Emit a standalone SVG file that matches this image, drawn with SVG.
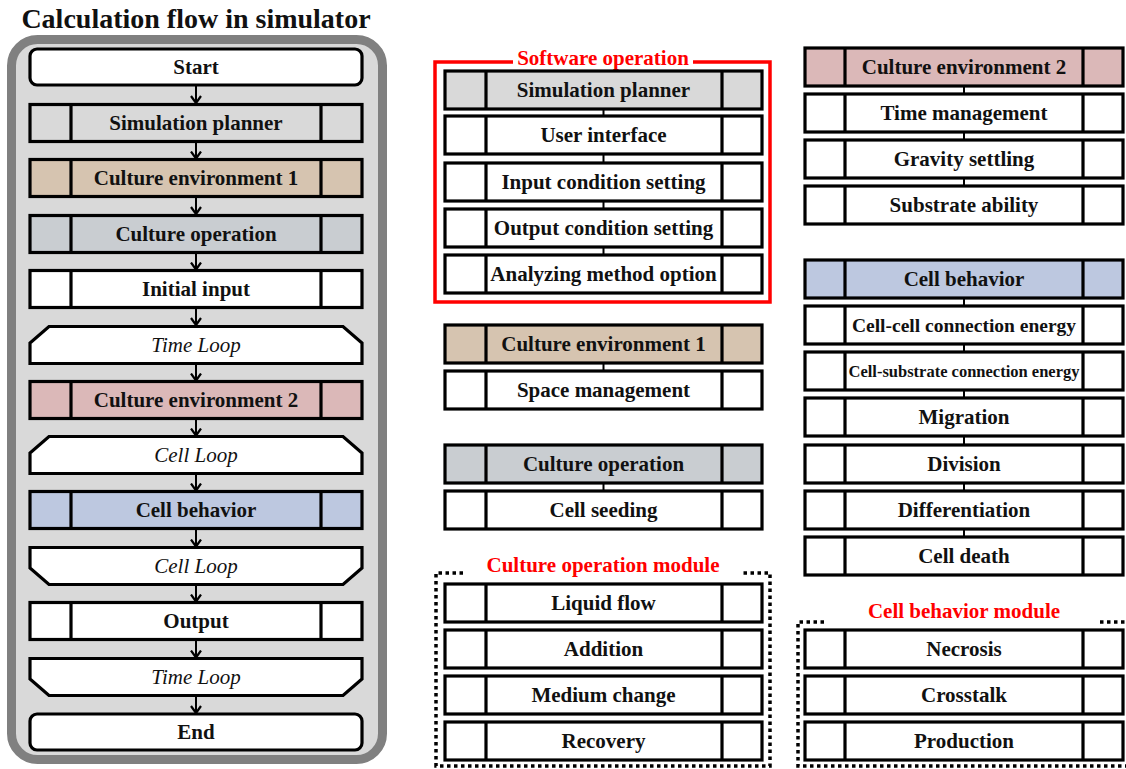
<svg xmlns="http://www.w3.org/2000/svg" width="1126" height="769" viewBox="0 0 1126 769">
<defs>
<marker id="arr" markerUnits="userSpaceOnUse" markerWidth="10" markerHeight="12" refX="8" refY="6" orient="auto" viewBox="0 0 10 12">
<path d="M1,1 L8,6 L1,11" fill="none" stroke="#000" stroke-width="2.2"/>
</marker>
</defs>
<style>
.t{font-family:"Liberation Serif",serif;font-weight:bold;font-size:21px;fill:#111;text-anchor:middle}
.it{font-family:"Liberation Serif",serif;font-style:italic;font-size:21px;fill:#111;text-anchor:middle}
.red{font-family:"Liberation Serif",serif;font-weight:bold;font-size:21px;fill:#ff0000;text-anchor:middle}
.b{stroke:#000;stroke-width:3.2}
.w{fill:#fff}
.sp{fill:#d9d9d9}
.ce1{fill:#d6c4b0}
.co{fill:#c9cdd1}
.ce2{fill:#dbb8b8}
.cb{fill:#bdc8e0}
.c{stroke:#000;stroke-width:2;fill:none}
.a{stroke:#000;stroke-width:2;fill:none;marker-end:url(#arr)}
.dot{stroke:#000;stroke-width:3.5;fill:none;stroke-dasharray:3.5 3.5}
</style>
<rect width="1126" height="769" fill="#fff"/>
<text x="196" y="28" style="font-family:'Liberation Serif',serif;font-weight:bold;font-size:28px;fill:#111;text-anchor:middle">Calculation flow in simulator</text>
<rect x="11.5" y="39.5" width="371" height="720" rx="26" fill="#d9d9d9" stroke="#808080" stroke-width="9"/>

<g id="connectors">
<path class="a" d="M196,86 V103"/>
<path class="a" d="M196,142 V158.5"/>
<path class="a" d="M196,197 V214"/>
<path class="a" d="M196,253 V269.5"/>
<path class="a" d="M196,308 V325"/>
<path class="a" d="M196,364 V380.5"/>
<path class="a" d="M196,419 V435.5"/>
<path class="a" d="M196,474 V490.5"/>
<path class="a" d="M196,529 V546.5"/>
<path class="a" d="M196,585 V601.5"/>
<path class="a" d="M196,640 V657.5"/>
<path class="a" d="M196,696 V713"/>
<path class="c" d="M603.5,109 V116 M603.5,154 V163 M603.5,201 V209 M603.5,247 V255 M603.5,363 V371 M603.5,483 V491"/>
<path class="c" d="M964,86 V94 M964,132 V140 M964,178 V186 M964,298 V306 M964,344 V352 M964,390 V398 M964,436 V445 M964,483 V491 M964,529 V537"/>
</g>

<g id="start"><rect class="b w" x="30" y="49" width="332" height="36" rx="7"/><text class="t" x="196" y="74">Start</text></g>
<g id="sim-planner-l"><rect class="b sp" x="30" y="104.5" width="332" height="37"/><path class="b" d="M71,104.5 V141.5 M321,104.5 V141.5"/><text class="t" x="196" y="130">Simulation planner</text></g>
<g id="ce1-l"><rect class="b ce1" x="30" y="159.5" width="332" height="37"/><path class="b" d="M71,159.5 V196.5 M321,159.5 V196.5"/><text class="t" x="196" y="185">Culture environment 1</text></g>
<g id="co-l"><rect class="b co" x="30" y="215.5" width="332" height="37"/><path class="b" d="M71,215.5 V252.5 M321,215.5 V252.5"/><text class="t" x="196" y="241">Culture operation</text></g>
<g id="initial-input"><rect class="b w" x="30" y="270.5" width="332" height="37"/><path class="b" d="M71,270.5 V307.5 M321,270.5 V307.5"/><text class="t" x="196" y="296">Initial input</text></g>
<g id="time-loop-1"><path class="b w" d="M49,326.5 H343 L362,343 V363.5 H30 V343 Z"/><text class="it" x="196" y="352">Time Loop</text></g>
<g id="ce2-l"><rect class="b ce2" x="30" y="381.5" width="332" height="37"/><path class="b" d="M71,381.5 V418.5 M321,381.5 V418.5"/><text class="t" x="196" y="407">Culture environment 2</text></g>
<g id="cell-loop-1"><path class="b w" d="M49,436.5 H343 L362,453 V473.5 H30 V453 Z"/><text class="it" x="196" y="462">Cell Loop</text></g>
<g id="cb-l"><rect class="b cb" x="30" y="491.5" width="332" height="37"/><path class="b" d="M71,491.5 V528.5 M321,491.5 V528.5"/><text class="t" x="196" y="517">Cell behavior</text></g>
<g id="cell-loop-2"><path class="b w" d="M30,547.5 H362 V568 L343,584.5 H49 L30,568 Z"/><text class="it" x="196" y="573">Cell Loop</text></g>
<g id="output"><rect class="b w" x="30" y="602.5" width="332" height="37"/><path class="b" d="M71,602.5 V639.5 M321,602.5 V639.5"/><text class="t" x="196" y="628">Output</text></g>
<g id="time-loop-2"><path class="b w" d="M30,658.5 H362 V679 L343,695.5 H49 L30,679 Z"/><text class="it" x="196" y="684">Time Loop</text></g>
<g id="end"><rect class="b w" x="30" y="714" width="332" height="36" rx="7"/><text class="t" x="196" y="739">End</text></g>

<g id="software-operation"><path d="M513,62 H435 V302 H770 V62 H693" fill="none" stroke="#ff0000" stroke-width="3.5"/><text class="red" x="603" y="65">Software operation</text></g>
<g id="sim-planner-m"><rect class="b sp" x="445" y="71" width="317" height="38"/><path class="b" d="M486,71 V109 M722,71 V109"/><text class="t" x="603.5" y="97">Simulation planner</text></g>
<g id="user-interface"><rect class="b w" x="445" y="116" width="317" height="38"/><path class="b" d="M486,116 V154 M722,116 V154"/><text class="t" x="603.5" y="142">User interface</text></g>
<g id="input-cond"><rect class="b w" x="445" y="163" width="317" height="38"/><path class="b" d="M486,163 V201 M722,163 V201"/><text class="t" x="603.5" y="189">Input condition setting</text></g>
<g id="output-cond"><rect class="b w" x="445" y="209" width="317" height="38"/><path class="b" d="M486,209 V247 M722,209 V247"/><text class="t" x="603.5" y="235">Output condition setting</text></g>
<g id="analyzing"><rect class="b w" x="445" y="255" width="317" height="38"/><path class="b" d="M486,255 V293 M722,255 V293"/><text class="t" x="603.5" y="281">Analyzing method option</text></g>

<g id="ce1-m"><rect class="b ce1" x="445" y="325" width="317" height="38"/><path class="b" d="M486,325 V363 M722,325 V363"/><text class="t" x="603.5" y="351">Culture environment 1</text></g>
<g id="space-mgmt"><rect class="b w" x="445" y="371" width="317" height="38"/><path class="b" d="M486,371 V409 M722,371 V409"/><text class="t" x="603.5" y="397">Space management</text></g>
<g id="co-m"><rect class="b co" x="445" y="445" width="317" height="38"/><path class="b" d="M486,445 V483 M722,445 V483"/><text class="t" x="603.5" y="471">Culture operation</text></g>
<g id="cell-seeding"><rect class="b w" x="445" y="491" width="317" height="38"/><path class="b" d="M486,491 V529 M722,491 V529"/><text class="t" x="603.5" y="517">Cell seeding</text></g>

<g id="culture-op-module"><path class="dot" d="M463,573 H436 V766 H770 V573 H740"/><text class="red" x="603" y="572">Culture operation module</text></g>
<g id="liquid-flow"><rect class="b w" x="445" y="584" width="317" height="38"/><path class="b" d="M486,584 V622 M722,584 V622"/><text class="t" x="603.5" y="610">Liquid flow</text></g>
<g id="addition"><rect class="b w" x="445" y="630" width="317" height="38"/><path class="b" d="M486,630 V668 M722,630 V668"/><text class="t" x="603.5" y="656">Addition</text></g>
<g id="medium-change"><rect class="b w" x="445" y="676" width="317" height="38"/><path class="b" d="M486,676 V714 M722,676 V714"/><text class="t" x="603.5" y="702">Medium change</text></g>
<g id="recovery"><rect class="b w" x="445" y="722" width="317" height="38"/><path class="b" d="M486,722 V760 M722,722 V760"/><text class="t" x="603.5" y="748">Recovery</text></g>

<g id="ce2-r"><rect class="b ce2" x="805" y="48" width="318" height="38"/><path class="b" d="M845,48 V86 M1083,48 V86"/><text class="t" x="964" y="74">Culture environment 2</text></g>
<g id="time-mgmt"><rect class="b w" x="805" y="94" width="318" height="38"/><path class="b" d="M845,94 V132 M1083,94 V132"/><text class="t" x="964" y="120">Time management</text></g>
<g id="gravity"><rect class="b w" x="805" y="140" width="318" height="38"/><path class="b" d="M845,140 V178 M1083,140 V178"/><text class="t" x="964" y="166">Gravity settling</text></g>
<g id="substrate"><rect class="b w" x="805" y="186" width="318" height="38"/><path class="b" d="M845,186 V224 M1083,186 V224"/><text class="t" x="964" y="212">Substrate ability</text></g>

<g id="cb-r"><rect class="b cb" x="805" y="260" width="318" height="38"/><path class="b" d="M845,260 V298 M1083,260 V298"/><text class="t" x="964" y="286">Cell behavior</text></g>
<g id="cell-cell"><rect class="b w" x="805" y="306" width="318" height="38"/><path class="b" d="M845,306 V344 M1083,306 V344"/><text class="t" x="964" y="332" style="font-size:19.5px">Cell-cell connection energy</text></g>
<g id="cell-substrate"><rect class="b w" x="805" y="352" width="318" height="38"/><path class="b" d="M845,352 V390 M1083,352 V390"/><text class="t" x="964" y="377" style="font-size:16.5px">Cell-substrate connection energy</text></g>
<g id="migration"><rect class="b w" x="805" y="398" width="318" height="38"/><path class="b" d="M845,398 V436 M1083,398 V436"/><text class="t" x="964" y="424">Migration</text></g>
<g id="division"><rect class="b w" x="805" y="445" width="318" height="38"/><path class="b" d="M845,445 V483 M1083,445 V483"/><text class="t" x="964" y="471">Division</text></g>
<g id="differentiation"><rect class="b w" x="805" y="491" width="318" height="38"/><path class="b" d="M845,491 V529 M1083,491 V529"/><text class="t" x="964" y="517">Differentiation</text></g>
<g id="cell-death"><rect class="b w" x="805" y="537" width="318" height="38"/><path class="b" d="M845,537 V575 M1083,537 V575"/><text class="t" x="964" y="563">Cell death</text></g>

<g id="cell-behavior-module"><path class="dot" d="M824,622 H798 V766 H1130 M1100,622 H1130"/><text class="red" x="964" y="618">Cell behavior module</text></g>
<g id="necrosis"><rect class="b w" x="805" y="630" width="318" height="38"/><path class="b" d="M845,630 V668 M1083,630 V668"/><text class="t" x="964" y="656">Necrosis</text></g>
<g id="crosstalk"><rect class="b w" x="805" y="676" width="318" height="38"/><path class="b" d="M845,676 V714 M1083,676 V714"/><text class="t" x="964" y="702">Crosstalk</text></g>
<g id="production"><rect class="b w" x="805" y="722" width="318" height="38"/><path class="b" d="M845,722 V760 M1083,722 V760"/><text class="t" x="964" y="748">Production</text></g>
</svg>
